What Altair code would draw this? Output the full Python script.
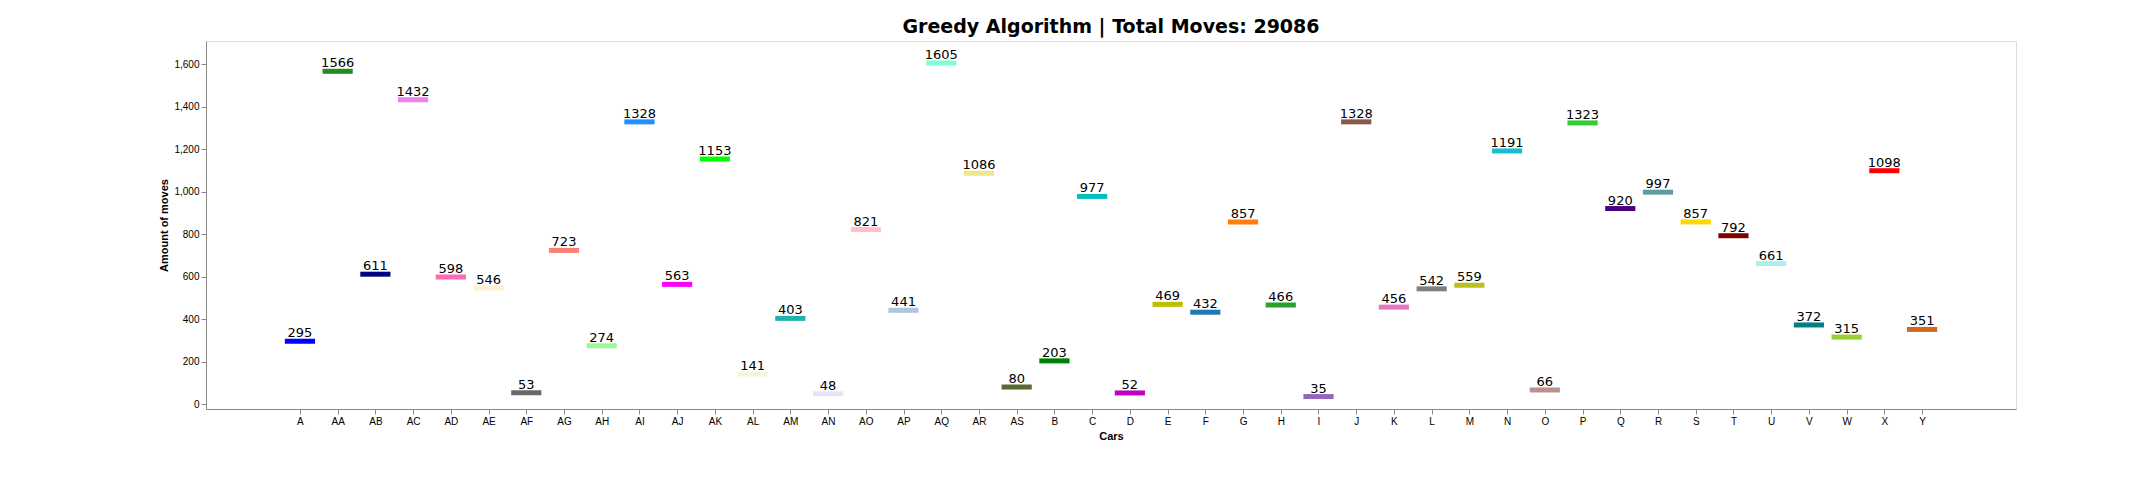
import altair as alt
import pandas as pd

cars = ["A", "AA", "AB", "AC", "AD", "AE", "AF", "AG", "AH", "AI", "AJ", "AK", "AL", "AM",
        "AN", "AO", "AP", "AQ", "AR", "AS", "B", "C", "D", "E", "F", "G", "H", "I", "J",
        "K", "L", "M", "N", "O", "P", "Q", "R", "S", "T", "U", "V", "W", "X", "Y"]
moves = [295, 1566, 611, 1432, 598, 546, 53, 723, 274, 1328, 563, 1153, 141, 403,
         48, 821, 441, 1605, 1086, 80, 203, 977, 52, 469, 432, 857, 466, 35, 1328,
         456, 542, 559, 1191, 66, 1323, 920, 997, 857, 792, 661, 372, 315, 1098, 351]
colors = ["#0000FF", "#228B22", "#000080", "#EE82EE", "#FF69B4", "#FFEFD5", "#696969",
          "#FA8072", "#98FB98", "#1E90FF", "#FF00FF", "#00FF00", "#F5F5DC", "#20B2AA",
          "#E6E6FA", "#FFC0CB", "#B0C4DE", "#7FFFD4", "#F0E68C", "#556B2F", "#008000",
          "#00BFBF", "#BF00BF", "#BFBF00", "#1F77B4", "#FF7F0E", "#2CA02C", "#9467BD",
          "#8C564B", "#E377C2", "#7F7F7F", "#BCBD22", "#17BECF", "#BC8F8F", "#32CD32",
          "#4B0082", "#5F9EA0", "#FFD700", "#800000", "#AFEEEE", "#008080", "#9ACD32",
          "#FF0000", "#D2691E"]

df = pd.DataFrame({"car": cars, "moves": moves, "color": colors, "idx": range(len(cars))})
total = sum(moves)

label_expr = "[" + ",".join(f"'{c}'" for c in cars) + "][datum.value]"
x = alt.X("x0:Q", title="Cars",
          scale=alt.Scale(domain=[-2.49, len(cars) - 1 + 2.49], nice=False, zero=False),
          axis=alt.Axis(values=list(range(len(cars))), labelExpr=label_expr, grid=False))
y = alt.Y("moves:Q", title="Amount of moves",
          scale=alt.Scale(domain=[0, 1685], nice=False),
          axis=alt.Axis(values=list(range(0, 1700, 200)), grid=False))

base = alt.Chart(df).transform_calculate(
    x0="datum.idx - 0.4", x1="datum.idx + 0.4", xm="datum.idx")

bars = base.mark_bar().encode(x=x, x2="x1:Q", y=y, color=alt.Color("color:N", scale=None))
text = base.mark_text(baseline="bottom", dy=-1, fontSize=13, font="DejaVu Sans").encode(
    x=alt.X("xm:Q"), y="moves:Q", text="moves:Q")

chart = (bars + text).properties(
    width=1810, height=368,
    title=alt.TitleParams(f"Greedy Algorithm | Total Moves: {total}", fontSize=19,
                          font="DejaVu Sans", fontWeight="bold"),
).configure_view(stroke="black", strokeWidth=1).configure_axis(
    labelFont="DejaVu Sans", titleFont="DejaVu Sans", labelFontSize=13, titleFontSize=14,
    titleFontWeight="normal", labelColor="black", titleColor="black",
    domainColor="black", tickColor="black", tickSize=5,
).configure(padding={"left": 150, "top": 10, "right": 10, "bottom": 5})

chart.save("out.html", embed_options={"renderer": "svg", "actions": False})
